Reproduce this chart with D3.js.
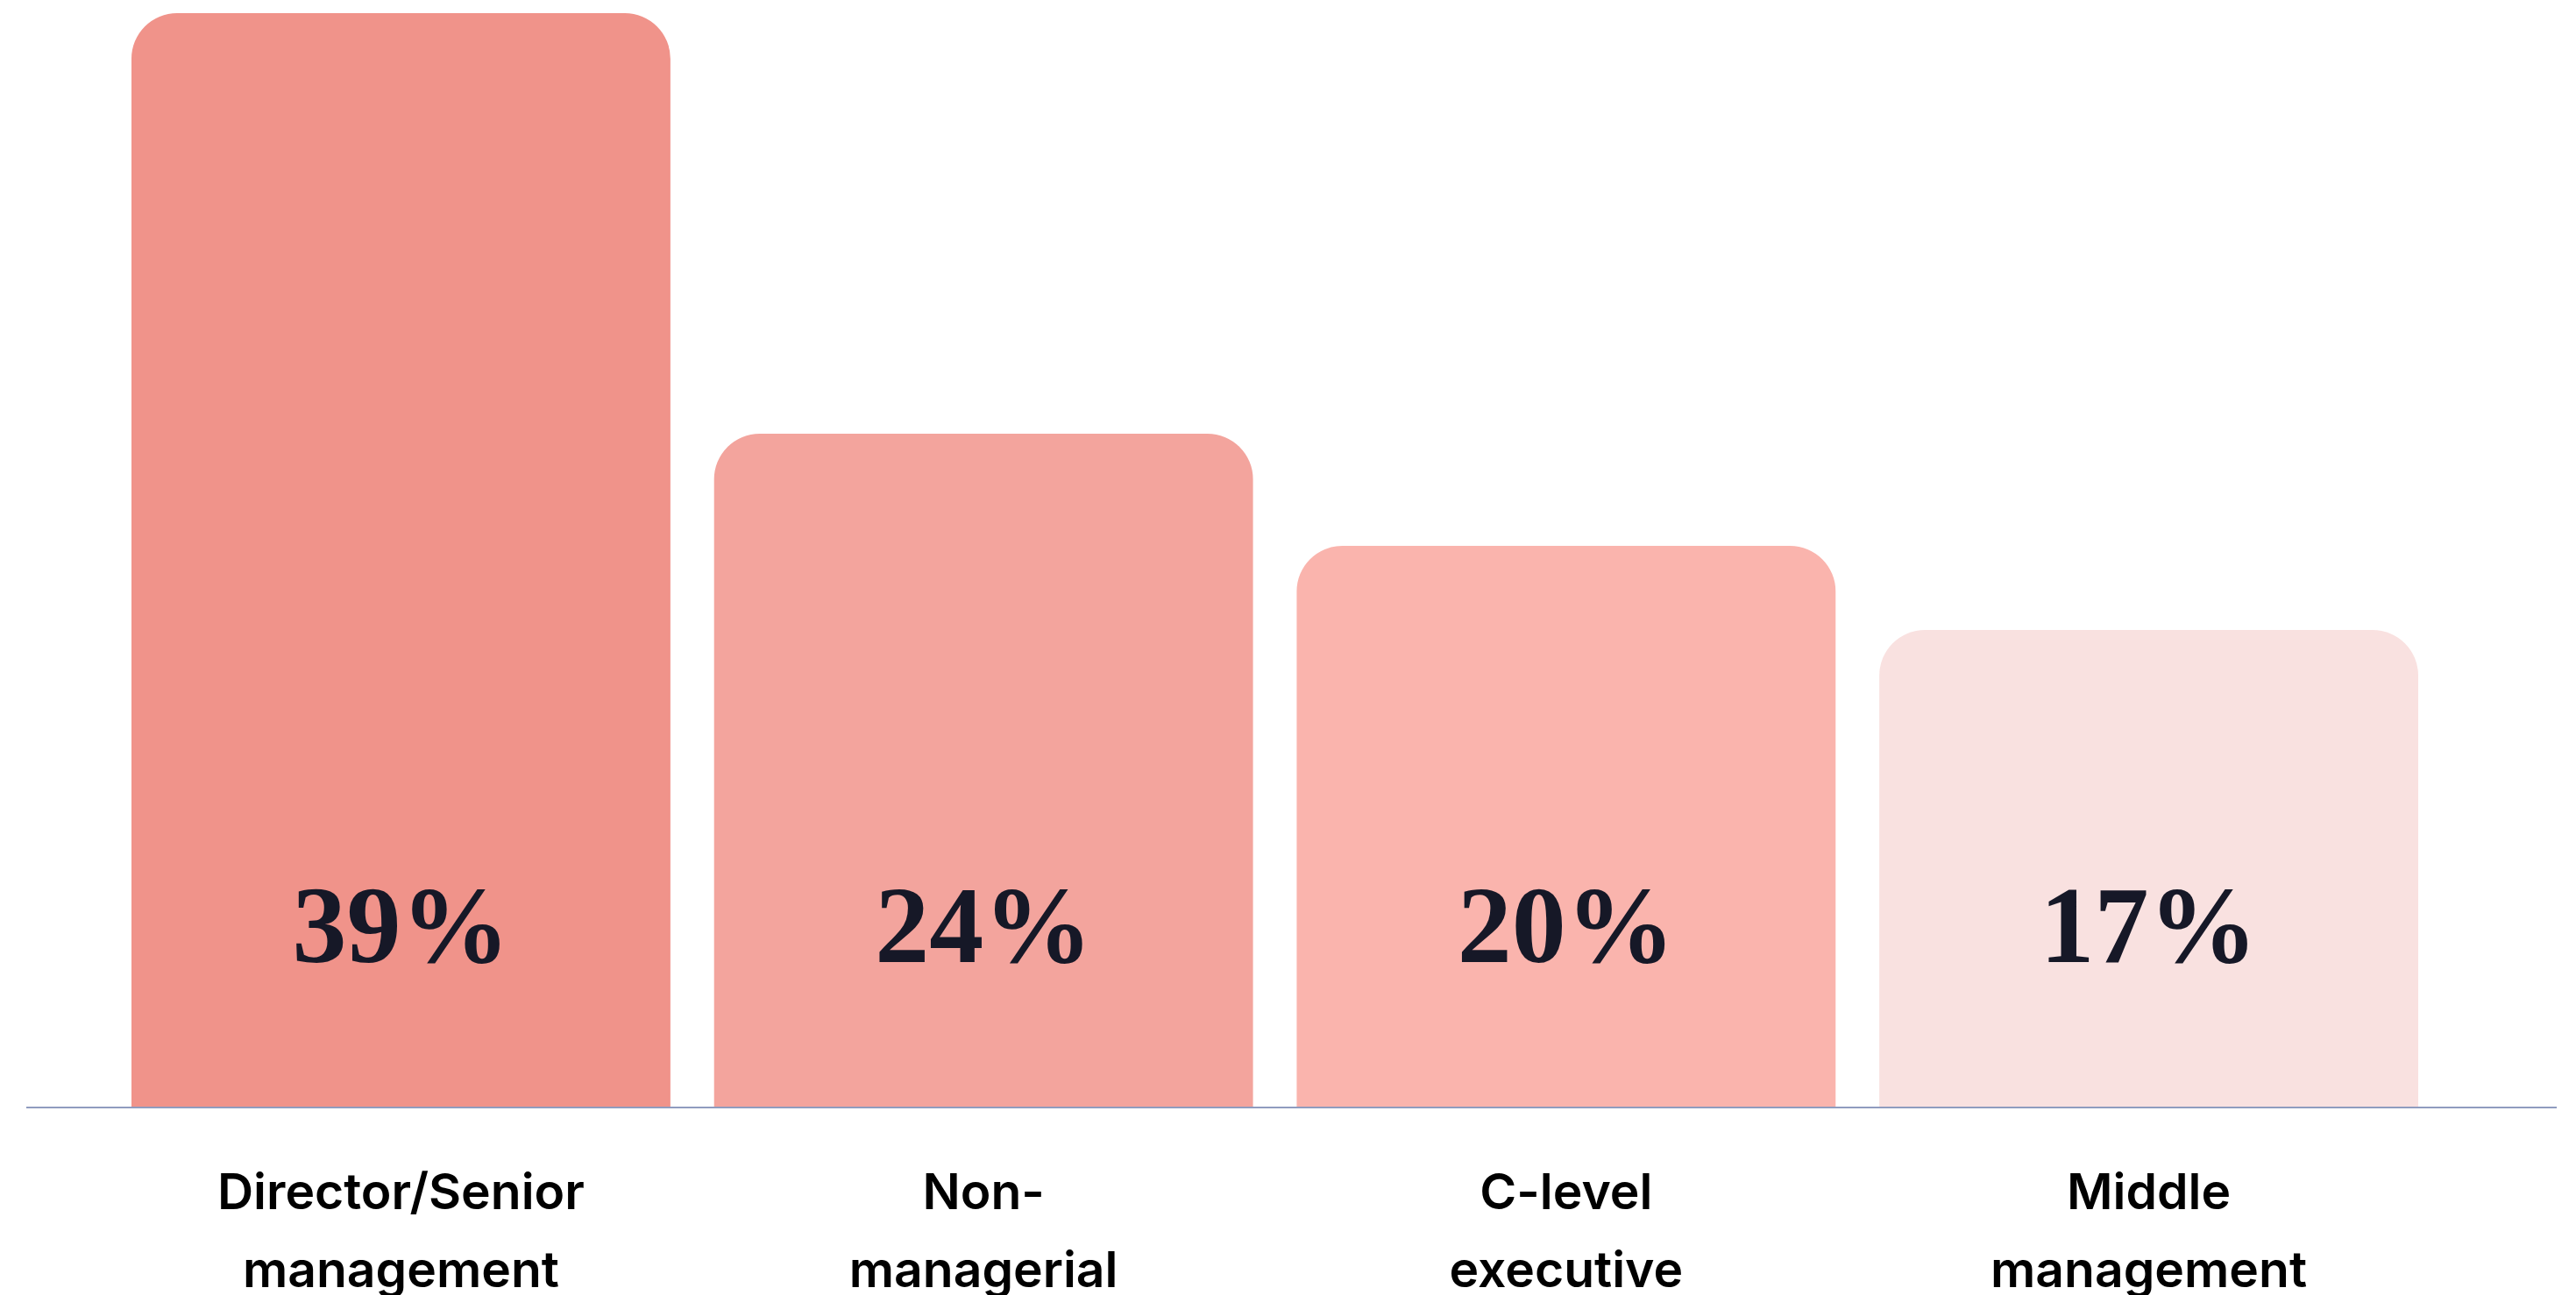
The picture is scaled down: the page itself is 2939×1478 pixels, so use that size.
<!DOCTYPE html>
<html>
<head>
<meta charset="utf-8">
<script src="https://cdn.jsdelivr.net/npm/d3@7"></script>
<style>
  html, body { margin: 0; padding: 0; background: #ffffff; }
  svg { display: block; }
</style>
</head>
<body>
<script>
// ---- data ----
const categories = ["Director/Senior management", "Non-managerial", "C-level executive", "Middle management"];
const labelLines = [["Director/Senior", "management"], ["Non-", "managerial"], ["C-level", "executive"], ["Middle", "management"]];
const values = [39, 24, 20, 17];
const valueLabels = ["39%", "24%", "20%", "17%"];
const barColors = ["#f0938a", "#f3a49d", "#fab4ad", "#f9e1e0"];

// ---- layout ----
const W = 2939, H = 1478;
const baseY = 1263, topY = 15;
const svg = d3.select("body").append("svg").attr("width", W).attr("height", H);

const x = d3.scaleBand().domain(categories).range([150, 2759]).paddingInner(0.075).paddingOuter(0);
const y = d3.scaleLinear().domain([0, d3.max(values)]).range([baseY, topY]);

const r = 52;
function topRounded(x0, y0, w, h, rr) {
  rr = Math.min(rr, h, w / 2);
  return `M${x0},${y0 + h} V${y0 + rr} A${rr},${rr} 0 0 1 ${x0 + rr},${y0} H${x0 + w - rr} A${rr},${rr} 0 0 1 ${x0 + w},${y0 + rr} V${y0 + h} Z`;
}

svg.append("g").selectAll("path").data(values).join("path")
  .attr("d", (d, i) => topRounded(x(categories[i]), y(d), x.bandwidth(), baseY - y(d), r))
  .attr("fill", (d, i) => barColors[i]);

// baseline
svg.append("line").attr("x1", 30).attr("x2", 2917).attr("y1", baseY + 1).attr("y2", baseY + 1)
  .attr("stroke", "#8f9cbf").attr("stroke-width", 2);

// value labels
svg.append("g").selectAll("text").data(valueLabels).join("text")
  .attr("x", (d, i) => x(categories[i]) + x.bandwidth() / 2)
  .attr("y", 1098)
  .attr("text-anchor", "middle")
  .attr("font-family", "'Liberation Serif', 'DejaVu Serif', serif")
  .attr("font-weight", 700)
  .attr("font-size", 124)
  .attr("fill", "#161827")
  .text(d => d);

// category labels
const cat = svg.append("g").selectAll("text").data(labelLines).join("text")
  .attr("text-anchor", "middle")
  .attr("font-family", "Inter, 'Noto Sans', sans-serif")
  .attr("font-weight", 600)
  .attr("font-size", 57)
  .attr("fill", "#000000");
cat.each(function(lines, i) {
  const t = d3.select(this);
  const cx = x(categories[i]) + x.bandwidth() / 2;
  lines.forEach((ln, j) => {
    t.append("tspan").attr("x", cx).attr("y", 1380 + j * 89).text(ln);
  });
});
</script>
</body>
</html>
